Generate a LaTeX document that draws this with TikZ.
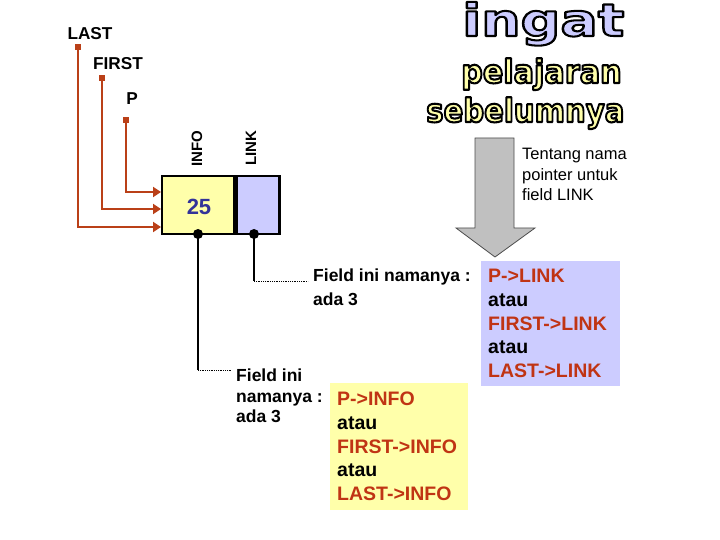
\documentclass[tikz,border=0pt]{standalone}
\usepackage{fontspec}
\usepackage{graphicx}
\setmainfont{Liberation Sans}
\newfontfamily\bigfont{DejaVu Sans}
\usetikzlibrary{arrows.meta}
\definecolor{ptrred}{RGB}{186,64,24}
\definecolor{txtred}{RGB}{192,52,20}
\definecolor{infoyel}{RGB}{255,255,170}
\definecolor{linklav}{RGB}{204,204,255}
\definecolor{numblue}{RGB}{51,51,153}
\definecolor{arrgray}{RGB}{192,192,192}
\newcommand\outl[2]{\special{pdf:code q 2 Tr 2 w 1 j}\textcolor{#1}{\special{pdf:code 0 0 0 RG}#2}\special{pdf:code Q}}
\newcommand\rd[1]{\textcolor{txtred}{#1}}
\tikzset{
  cell/.style={draw=black, line width=2.5pt, inner sep=0pt},
  ptr/.style={draw=ptrred, line width=2pt, -{Triangle[length=8pt,width=10pt]}, ptrred},
  marker/.style={fill=ptrred, minimum size=5.5pt, inner sep=0pt},
  dotnode/.style={circle, fill=black, minimum size=10pt, inner sep=0pt},
  lead/.style={draw=black, line width=1.5pt},
  leaddot/.style={draw=black, line width=0.8pt, densely dotted},
  lbl/.style={font=\bfseries\fontsize{17.2}{17.2}\selectfont, inner sep=0pt},
  fieldtxt/.style={font=\bfseries\fontsize{17.5}{24}\selectfont, align=left, inner sep=0pt},
  fieldtxtb/.style={font=\bfseries\fontsize{17.5}{20.5}\selectfont, align=left, inner sep=0pt},
  listbox/.style={font=\bfseries\fontsize{19.5}{23.7}\selectfont, align=left, inner xsep=7pt, inner ysep=8pt, anchor=north west},
  bigtxt/.style={anchor=base west, inner sep=0pt}
}
\begin{document}
\begin{tikzpicture}[x=1pt,y=-1pt]
\useasboundingbox (0,0) rectangle (720,540);

% big outlined title
\node[bigtxt] (ingat) at (462,36) {\scalebox{1.26}[1.02]{\bigfont\bfseries\fontsize{44}{44}\selectfont\outl{linklav}{ingat}}};
\node[bigtxt] (pel) at (461,83) {\scalebox{0.975}[1.05]{\bigfont\bfseries\fontsize{31}{31}\selectfont\outl{infoyel}{pelajaran}}};
\node[bigtxt] (seb) at (426,122) {\scalebox{0.94}[1.05]{\bigfont\bfseries\fontsize{31}{31}\selectfont\outl{infoyel}{sebelumnya}}};

% pointer labels and markers
\node[lbl] (lastlbl) at (90,34) {LAST};
\node[lbl] (firstlbl) at (118,64) {FIRST};
\node[lbl] (plbl) at (132,99) {P};
\node[marker] (lastm) at (78,47) {};
\node[marker] (firstm) at (102,78) {};
\node[marker] (pm) at (126,120) {};

% the list node
\node[cell, fill=infoyel, minimum width=72pt, minimum height=58pt] (info) at (198,205) {};
\node[cell, fill=linklav, minimum width=43pt, minimum height=58pt, anchor=west] (link) at (info.east) {};
\node[font=\bfseries\fontsize{22}{22}\selectfont, text=numblue, inner sep=0pt] (num) at (199,207) {25};
\node[rotate=90, font=\bfseries\fontsize{15}{15}\selectfont, inner sep=0pt] (infolbl) at (197,149) {INFO};
\node[rotate=90, font=\bfseries\fontsize{15}{15}\selectfont, inner sep=0pt] (linklbl) at (251,148) {LINK};

% pointer arrows
\coordinate (ap) at (161,192);
\coordinate (af) at (161,209);
\coordinate (al) at (161,227);
\draw[ptr] (pm.center) |- (ap);
\draw[ptr] (firstm.center) |- (af);
\draw[ptr] (lastm.center) |- (al);

% leader lines from fields
\node[dotnode] (d1) at (198,234) {};
\node[dotnode] (d2) at (254,234) {};
\coordinate (k1) at (198,370);
\coordinate (k1e) at (231,370);
\coordinate (k2) at (254,281);
\coordinate (k2e) at (308,281);
\draw[lead] (d1.center) -- (k1);
\draw[leaddot] (k1) -- (k1e);
\draw[lead] (d2.center) -- (k2);
\draw[leaddot] (k2) -- (k2e);

\node[fieldtxt, anchor=north west] (f1) at (313,269) {Field ini namanya :\\ada 3};
\node[fieldtxtb, anchor=north west] (f2) at (236,369) {Field ini\\namanya :\\ada 3};

% big gray arrow
\draw[fill=arrgray, draw=black!70, line width=0.8pt] (475,138) -- (514,138) -- (514,228) -- (535,228) -- (495,257) -- (456,228) -- (475,228) -- cycle;

\node[anchor=north west, inner sep=0pt, align=left, font=\fontsize{16.5}{20.5}\selectfont] (tent) at (522,148) {Tentang nama\\pointer untuk\\field LINK};

% lists
\node[listbox, fill=linklav, text width=125pt] (linklist) at (481,261) {\rd{P->LINK}\\atau\\\rd{FIRST->LINK}\\atau\\\rd{LAST->LINK}};
\node[listbox, fill=infoyel, text width=124pt, inner ysep=9pt] (infolist) at (330,383) {\rd{P->INFO}\\atau\\\rd{FIRST->INFO}\\atau\\\rd{LAST->INFO}};
\end{tikzpicture}
\end{document}
